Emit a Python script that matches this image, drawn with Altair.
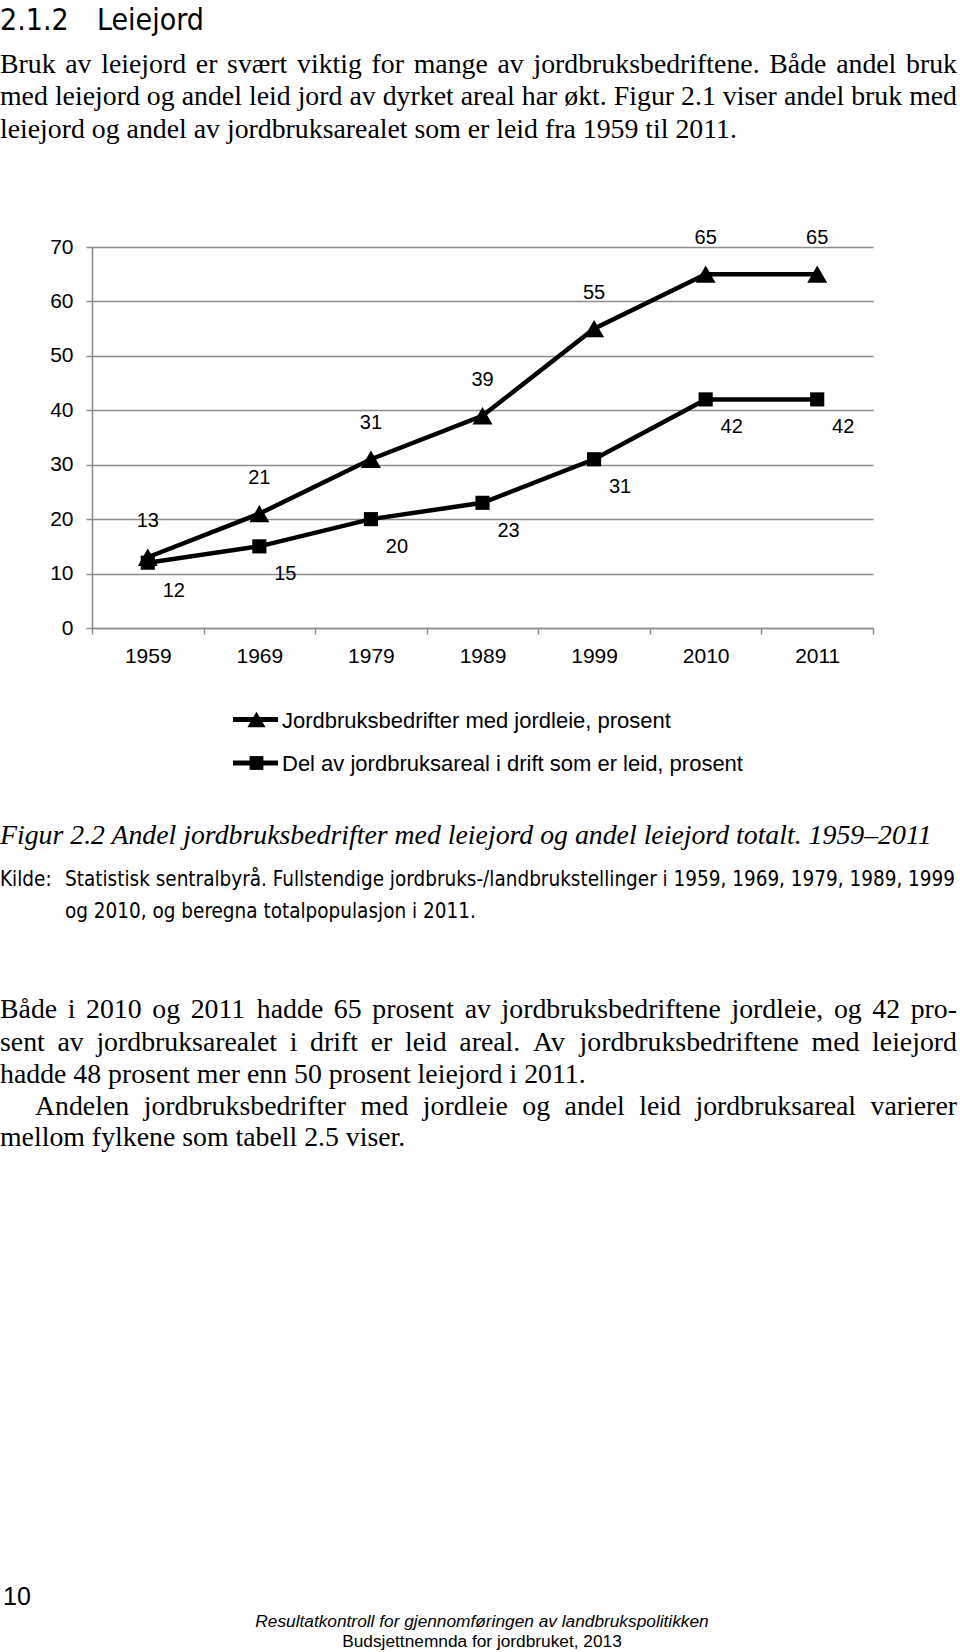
import altair as alt
import pandas as pd

# ---- chart data ----
years = ["1959", "1969", "1979", "1989", "1999", "2010", "2011"]
series_names = [
    "Jordbruksbedrifter med jordleie, prosent",
    "Del av jordbruksareal i drift som er leid, prosent",
]
bedrifter = [13, 21, 31, 39, 55, 65, 65]
areal = [12, 15, 20, 23, 31, 42, 42]
y_ticks = [0, 10, 20, 30, 40, 50, 60, 70]

# ---- page text ----
heading_num = "2.1.2"
heading_txt = "Leiejord"
para1 = [
    "Bruk av leiejord er svært viktig for mange av jordbruksbedriftene. Både andel bruk",
    "med leiejord og andel leid jord av dyrket areal har økt. Figur 2.1 viser andel bruk med",
    "leiejord og andel av jordbruksarealet som er leid fra 1959 til 2011.",
]
caption = "Figur 2.2 Andel jordbruksbedrifter med leiejord og andel leiejord totalt. 1959–2011"
kilde_lbl = "Kilde:"
kilde = [
    "Statistisk sentralbyrå. Fullstendige jordbruks-/landbrukstellinger i 1959, 1969, 1979, 1989, 1999",
    "og 2010, og beregna totalpopulasjon i 2011.",
]
para2 = [
    "Både i 2010 og 2011 hadde 65 prosent av jordbruksbedriftene jordleie, og 42 pro-",
    "sent av jordbruksarealet i drift er leid areal. Av jordbruksbedriftene med leiejord",
    "hadde 48 prosent mer enn 50 prosent leiejord i 2011.",
    "Andelen jordbruksbedrifter med jordleie og andel leid jordbruksareal varierer",
    "mellom fylkene som tabell 2.5 viser.",
]
page_no = "10"
footer = [
    "Resultatkontroll for gjennomføringen av landbrukspolitikken",
    "Budsjettnemnda for jordbruket, 2013",
]

df = pd.DataFrame(
    {
        "year": years * 2,
        "value": bedrifter + areal,
        "series": [series_names[0]] * len(years) + [series_names[1]] * len(years),
    }
)

# ---- layout (page pixels) ----
OX, OY = 92, 247          # plot origin on page
W, H = 781, 381           # plot area
SANS = "Liberation Sans, Arial, sans-serif"
COND = "DejaVu Sans Condensed, Liberation Sans Narrow, Arial Narrow, Liberation Sans, sans-serif"
SERIF = "Liberation Serif, Times New Roman, serif"
GRAY = "#8c8c8c"
BODY = 27.8

# Times (Liberation Serif) advance widths, per 1000 em, for justified lines
_TW = {
    " ": 250, ",": 250, ".": 250, "-": 333, "/": 278, ":": 278, "–": 500,
    "A": 722, "B": 667, "C": 667, "D": 722, "E": 611, "F": 556, "G": 722, "H": 722,
    "I": 333, "J": 389, "K": 722, "L": 611, "M": 889, "N": 722, "O": 722, "P": 556,
    "Q": 722, "R": 667, "S": 556, "T": 611, "U": 722, "V": 722, "W": 944, "X": 722,
    "Y": 722, "Z": 611,
    "a": 444, "b": 500, "c": 444, "d": 500, "e": 444, "f": 333, "g": 500, "h": 500,
    "i": 278, "j": 278, "k": 500, "l": 278, "m": 778, "n": 500, "o": 500, "p": 500,
    "q": 500, "r": 333, "s": 389, "t": 278, "u": 500, "v": 500, "w": 722, "x": 500,
    "y": 500, "z": 444, "å": 444, "æ": 667, "ø": 500,
}


def tw(s, size):
    return sum(_TW.get(c, 500) for c in s) / 1000.0 * size


x_enc = alt.X(
    "year:N",
    sort=years,
    scale=alt.Scale(type="band", paddingInner=0, paddingOuter=0),
    axis=alt.Axis(
        title=None, labelAngle=0, labelFontSize=21, labelFont=SANS, labelColor="black",
        labelPadding=11, tickSize=6, tickBand="extent", tickColor=GRAY, tickWidth=1.5,
        domainColor=GRAY, domainWidth=1.5, grid=False,
    ),
)
y_enc = alt.Y(
    "value:Q",
    scale=alt.Scale(domain=[0, 70], nice=False),
    axis=alt.Axis(
        title=None, values=y_ticks, labelFontSize=21, labelFont=SANS, labelColor="black",
        labelPadding=13, tickSize=6, tickColor=GRAY, tickWidth=1.5,
        domainColor=GRAY, domainWidth=1.5, grid=True, gridColor=GRAY, gridWidth=1.5,
    ),
)

base = alt.Chart(df)

lines = base.mark_line(color="black", strokeWidth=4.5).encode(
    x=x_enc, y=y_enc, detail="series:N"
)
points = base.mark_point(filled=True, color="black", opacity=1).encode(
    x=x_enc,
    y=y_enc,
    shape=alt.Shape("series:N", scale=alt.Scale(domain=series_names, range=["triangle-up", "square"]), legend=None),
    size=alt.Size("series:N", scale=alt.Scale(domain=series_names, range=[400, 200]), legend=None),
)
lab_tri = base.transform_filter(alt.datum.series == series_names[0]).mark_text(
    font=SANS, fontSize=20, color="black", dy=-36, dx=0
).encode(x=x_enc, y=y_enc, text="value:Q")
lab_sq = base.transform_filter(alt.datum.series == series_names[1]).mark_text(
    font=SANS, fontSize=20, color="black", dy=28, dx=26
).encode(x=x_enc, y=y_enc, text="value:Q")


def one(t):
    return alt.Chart(alt.Data(values=[{"t": t}]))


def txt(t, x, y, size, font, style="normal", align="left", weight="normal"):
    return one(t).mark_text(
        align=align, baseline="alphabetic", font=font, fontSize=size,
        fontStyle=style, fontWeight=weight, color="black",
    ).encode(x=alt.value(x - OX), y=alt.value(y - OY), text="t:N")


def justified(line, x0, x1, y, size):
    words = line.split(" ")
    widths = [tw(w, size) for w in words]
    gap = (x1 - x0 - sum(widths)) / (len(words) - 1)
    out, x = [], x0
    for w, wd in zip(words, widths):
        out.append(txt(w, x, y, size, SERIF))
        x += wd + gap
    return out


layers = [lines, points, lab_tri, lab_sq]

# legend (manual)
leg_y = [719.5, 763]
leg_shapes = ["triangle-up", "square"]
leg_sizes = [330, 190]
for name, ly, shp, sz in zip(series_names, leg_y, leg_shapes, leg_sizes):
    layers.append(
        one(name).mark_rule(color="black", strokeWidth=5).encode(
            x=alt.value(233 - OX), x2=alt.value(278 - OX), y=alt.value(ly - OY)
        )
    )
    layers.append(
        one(name).mark_point(filled=True, color="black", opacity=1, shape=shp, size=sz).encode(
            x=alt.value(256.5 - OX), y=alt.value(ly - OY)
        )
    )
    layers.append(
        one(name).mark_text(align="left", baseline="middle", font=SANS, fontSize=22, color="black").encode(
            x=alt.value(282 - OX), y=alt.value(ly + 1 - OY), text="t:N"
        )
    )

RIGHT = 957
# heading
layers.append(txt(heading_num, 0, 30, 30, COND))
layers.append(txt(heading_txt, 97, 30, 30, COND))
# paragraph 1 (first two lines justified)
p1_y = [72.5, 105, 137.5]
layers += justified(para1[0], 0, RIGHT, p1_y[0], BODY)
layers += justified(para1[1], 0, RIGHT, p1_y[1], BODY)
layers.append(txt(para1[2], 0, p1_y[2], BODY, SERIF))
# figure caption and source
layers.append(txt(caption, 0, 844, BODY, SERIF, style="italic"))
layers.append(txt(kilde_lbl, 0, 886, 20.5, COND))
for i, line in enumerate(kilde):
    layers.append(txt(line, 65, 886 + i * 32, 20.5, COND))
# paragraph 2
p2_y = [1018, 1050.5, 1083, 1115, 1146]
layers += justified(para2[0], 0, RIGHT, p2_y[0], BODY)
layers += justified(para2[1], 0, RIGHT, p2_y[1], BODY)
layers.append(txt(para2[2], 0, p2_y[2], BODY, SERIF))
layers += justified(para2[3], 35, RIGHT, p2_y[3], BODY)
layers.append(txt(para2[4], 0, p2_y[4], BODY, SERIF))
# footer
layers.append(txt(page_no, 3, 1605, 25, SANS))
layers.append(txt(footer[0], 482, 1627, 17.3, SANS, style="italic", align="center"))
layers.append(txt(footer[1], 482, 1647, 17.3, SANS, align="center"))

chart = (
    alt.layer(*layers)
    .properties(
        width=W,
        height=H,
        autosize=alt.AutoSizeParams(type="none"),
        padding={"left": OX, "top": OY, "right": 960 - OX - W, "bottom": 1652 - OY - H},
        background="white",
    )
    .configure_view(stroke=None)
)

chart.save("out.html", embed_options={"renderer": "svg", "actions": False})
